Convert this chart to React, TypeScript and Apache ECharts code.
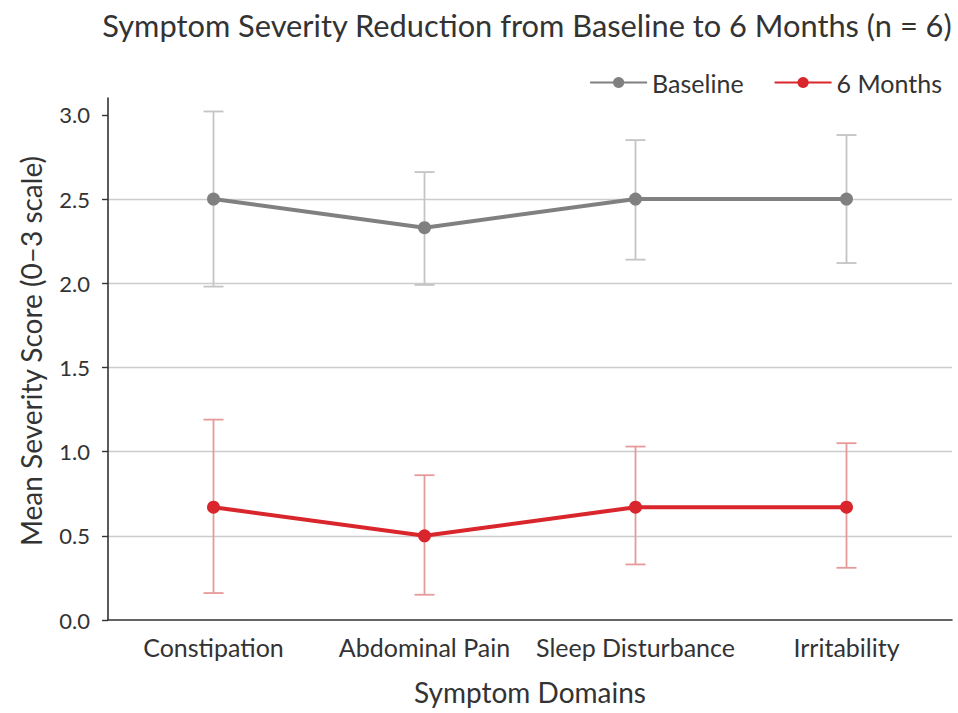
import React, { useEffect, useRef } from "react";
import * as echarts from "echarts";

const categories = ["Constipation", "Abdominal Pain", "Sleep Disturbance", "Irritability"];
const baselineMean = [2.5, 2.33, 2.5, 2.5];
const baselineLow = [1.98, 1.99, 2.14, 2.12];
const baselineHigh = [3.02, 2.66, 2.85, 2.88];
const monthsMean = [0.67, 0.5, 0.67, 0.67];
const monthsLow = [0.16, 0.15, 0.33, 0.31];
const monthsHigh = [1.19, 0.86, 1.03, 1.05];
const yTicks = [0, 0.5, 1, 1.5, 2, 2.5, 3];

const FONT = "Lato";

function errorSeries(name: string, low: number[], high: number[], color: string) {
  return {
    type: "custom",
    name: name + " err",
    z: 1,
    silent: true,
    data: categories.map((_, i) => [i, low[i], high[i]]),
    renderItem: (params: any, api: any) => {
      const x = api.value(0);
      const lo = api.coord([x, api.value(1)]);
      const hi = api.coord([x, api.value(2)]);
      const hw = 10;
      const style = { stroke: color, lineWidth: 1.8 };
      return {
        type: "group",
        children: [
          { type: "line", shape: { x1: lo[0], y1: lo[1], x2: hi[0], y2: hi[1] }, style },
          { type: "line", shape: { x1: lo[0] - hw, y1: lo[1], x2: lo[0] + hw, y2: lo[1] }, style },
          { type: "line", shape: { x1: hi[0] - hw, y1: hi[1], x2: hi[0] + hw, y2: hi[1] }, style },
        ],
      };
    },
  };
}

export default function App() {
  const ref = useRef<HTMLDivElement>(null);
  useEffect(() => {
    const chart = echarts.init(ref.current!, undefined, { renderer: "svg" });
    chart.setOption({
      animation: false,
      backgroundColor: "#ffffff",
      title: {
        text: "Symptom Severity Reduction from Baseline to 6 Months (n = 6)",
        left: 527,
        textAlign: "center",
        top: 10,
        padding: 0,
        textStyle: { fontFamily: FONT, fontSize: 30.8, fontWeight: "normal", color: "#333" },
      },
      legend: {
        right: 11,
        top: 65,
        itemWidth: 57,
        itemHeight: 14,
        itemGap: 30,
        textStyle: { fontFamily: FONT, fontSize: 25, color: "#333" },
        data: ["Baseline", "6 Months"],
      },
      grid: { left: 108, right: 6, top: 98, bottom: 93, containLabel: false, outerBoundsMode: "none" },
      xAxis: {
        type: "category",
        data: categories,
        boundaryGap: true,
        name: "Symptom Domains",
        nameLocation: "middle",
        nameGap: 58,
        nameTextStyle: { fontFamily: FONT, fontSize: 28, color: "#333" },
        axisLine: { lineStyle: { color: "#333", width: 1.6 } },
        axisTick: { alignWithLabel: true, length: 6, lineStyle: { color: "#333", width: 1.4 } },
        axisLabel: { fontFamily: FONT, fontSize: 25, color: "#333", margin: 14, interval: 0, hideOverlap: false },
        splitLine: { show: false },
      },
      yAxis: {
        type: "value",
        min: 0,
        max: 3.1,
        name: "Mean Severity Score (0\u20133 scale)",
        nameLocation: "middle",
        nameGap: 63,
        nameTextStyle: { fontFamily: FONT, fontSize: 28, color: "#333", padding: [0, 0, 0, 16] },
        axisLine: { show: true, lineStyle: { color: "#333", width: 1.6 } },
        axisTick: { show: true, length: 6, customValues: yTicks, lineStyle: { color: "#333", width: 1.4 } },
        axisLabel: {
          fontFamily: FONT,
          fontSize: 22,
          color: "#333",
          margin: 18,
          customValues: yTicks,
          formatter: (v: number) => v.toFixed(1),
        },
        splitLine: { show: true, showMaxLine: false, showMinLine: false, lineStyle: { color: "#cccccc", width: 1.3 } },
      },
      series: [
        errorSeries("Baseline", baselineLow, baselineHigh, "#c4c4c4"),
        errorSeries("6 Months", monthsLow, monthsHigh, "#e69a9a"),
        {
          type: "line",
          name: "Baseline",
          z: 3,
          data: baselineMean,
          symbol: "circle",
          symbolSize: 13,
          itemStyle: { color: "#808080" },
          lineStyle: { color: "#808080", width: 4 },
        },
        {
          type: "line",
          name: "6 Months",
          z: 3,
          data: monthsMean,
          symbol: "circle",
          symbolSize: 13,
          itemStyle: { color: "#d9262c" },
          lineStyle: { color: "#d9262c", width: 4 },
        },
      ],
    });
    return () => chart.dispose();
  }, []);
  return (
    <div
      ref={ref}
      style={{ position: "fixed", left: 0, top: 0, width: 958, height: 713, background: "#fff" }}
    />
  );
}
